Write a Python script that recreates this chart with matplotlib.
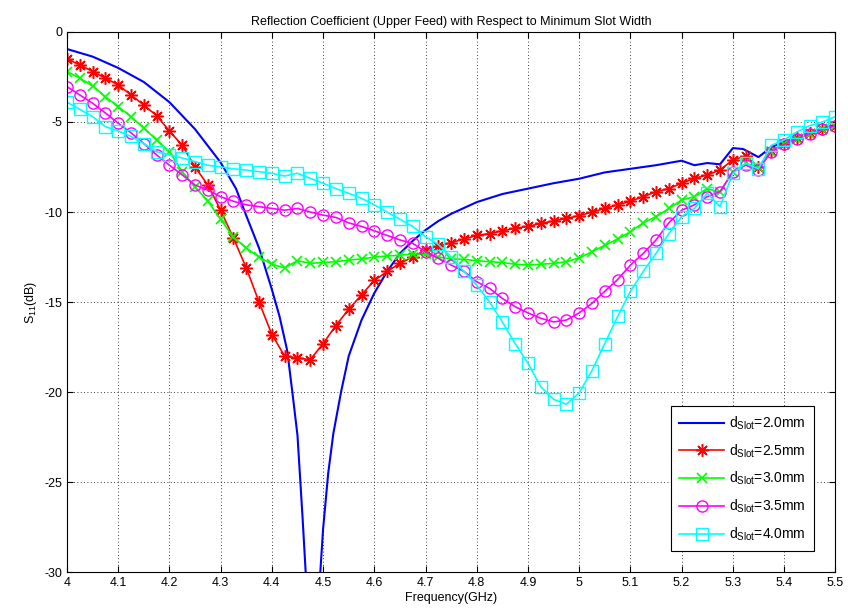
import matplotlib
matplotlib.use("Agg")
import matplotlib.pyplot as plt
import numpy as np

plt.rcParams['font.family'] = ['Liberation Sans', 'DejaVu Sans']
plt.rcParams['mathtext.fontset'] = 'custom'
plt.rcParams['mathtext.rm'] = 'Liberation Sans'
plt.rcParams['mathtext.it'] = 'Liberation Sans'
plt.rcParams['axes.unicode_minus'] = False

# frequency grid for marker curves (GHz)
freq = np.round(np.arange(4.0, 5.5001, 0.025), 3)

# d_slot = 2.0 mm (no markers, own sampling)
freq_20 = [4.0, 4.05, 4.1, 4.15, 4.2, 4.25, 4.3, 4.33, 4.35, 4.375, 4.4, 4.415,
           4.43, 4.44, 4.45, 4.46, 4.47, 4.48, 4.49, 4.5, 4.51, 4.52, 4.535,
           4.55, 4.575, 4.6, 4.625, 4.65, 4.675, 4.7, 4.725, 4.75, 4.8, 4.85,
           4.9, 4.95, 5.0, 5.05, 5.1, 5.15, 5.2, 5.225, 5.25, 5.275, 5.3, 5.32,
           5.35, 5.375, 5.4, 5.45, 5.5]
s11_20 = [-0.95, -1.37, -2.0, -2.78, -3.9, -5.4, -7.25, -8.7, -10.2, -12.0,
          -14.3, -15.8, -17.7, -20.0, -22.4, -27.0, -32.0, -35.0, -32.0, -27.6,
          -24.5, -22.3, -20.0, -18.0, -16.0, -14.5, -13.3, -12.3, -11.6, -11.0,
          -10.5, -10.1, -9.45, -9.0, -8.7, -8.4, -8.15, -7.8, -7.6, -7.4,
          -7.15, -7.4, -7.28, -7.35, -6.45, -6.5, -6.95, -6.4, -6.1, -5.6, -5.15]

s11_25 = [-1.5, -1.83, -2.2, -2.57, -2.94, -3.5, -4.06, -4.65, -5.5, -6.3,
          -7.5, -8.5, -9.9, -11.45, -13.1, -15.0, -16.8, -18.0, -18.1, -18.2,
          -17.3, -16.3, -15.4, -14.6, -13.8, -13.3, -12.85, -12.5, -12.1, -11.9,
          -11.7, -11.5, -11.3, -11.2, -11.04, -10.9, -10.8, -10.63, -10.5, -10.35,
          -10.2, -10.0, -9.8, -9.6, -9.4, -9.15, -8.87, -8.7, -8.4, -8.13,
          -7.94, -7.67, -7.1, -6.9, -7.5, -6.6, -6.2, -5.9, -5.6, -5.4, -5.2]

s11_30 = [-2.2, -2.57, -3.0, -3.6, -4.15, -4.7, -5.35, -6.0, -6.65, -7.76,
          -8.6, -9.4, -10.4, -11.4, -12.0, -12.5, -12.9, -13.1, -12.7, -12.85,
          -12.8, -12.76, -12.67, -12.6, -12.5, -12.44, -12.4, -12.33, -12.35, -12.5,
          -12.6, -12.63, -12.7, -12.76, -12.8, -12.9, -12.94, -12.9, -12.85, -12.76,
          -12.55, -12.2, -11.85, -11.5, -11.1, -10.6, -10.26, -9.8, -9.33, -9.15,
          -8.7, -8.9, -7.76, -7.3, -7.5, -6.65, -6.25, -5.95, -5.65, -5.4, -5.25]

s11_35 = [-3.04, -3.5, -3.96, -4.5, -5.07, -5.6, -6.2, -6.83, -7.4, -7.94,
          -8.5, -8.78, -9.15, -9.4, -9.6, -9.7, -9.8, -9.9, -9.8, -10.0,
          -10.17, -10.3, -10.6, -10.8, -11.04, -11.3, -11.55, -11.74, -12.2, -12.57,
          -12.94, -13.3, -13.87, -14.24, -14.8, -15.26, -15.6, -15.9, -16.1, -16.0,
          -15.6, -15.07, -14.4, -13.75, -12.95, -12.3, -11.55, -10.6, -9.9, -9.6,
          -9.15, -8.87, -7.76, -7.4, -7.65, -6.65, -6.25, -5.95, -5.65, -5.4, -5.2]

s11_40 = [-3.9, -4.3, -4.7, -5.26, -5.5, -5.8, -6.2, -6.65, -6.83, -7.0,
          -7.2, -7.4, -7.5, -7.6, -7.67, -7.76, -7.85, -8.0, -7.85, -8.13,
          -8.4, -8.7, -8.96, -9.24, -9.6, -10.0, -10.4, -10.8, -11.37, -11.8,
          -12.5, -13.3, -14.06, -15.0, -16.1, -17.3, -18.4, -19.7, -20.4, -20.67,
          -20.04, -18.8, -17.3, -15.8, -14.4, -13.3, -12.3, -11.2, -10.26, -9.8,
          -8.96, -9.7, -7.85, -7.3, -7.6, -6.3, -6.0, -5.55, -5.2, -5.0, -4.7]

labels = [r'd$_\mathrm{Slot}$=2.0mm', r'd$_\mathrm{Slot}$=2.5mm',
          r'd$_\mathrm{Slot}$=3.0mm', r'd$_\mathrm{Slot}$=3.5mm',
          r'd$_\mathrm{Slot}$=4.0mm']

fig = plt.figure(figsize=(8.48, 6.14), dpi=100)
ax = fig.add_axes([0.079, 0.068, 0.906, 0.880])

ax.plot(freq_20, s11_20, color=(0, 0, 1), lw=1.5, label=labels[0])
ax.plot(freq, s11_25, color=(1, 0, 0), lw=1.2, marker=(8, 2, 0), ms=9,
        mew=1.1, label=labels[1])
ax.plot(freq, s11_30, color=(0, 1, 0), lw=1.2, marker='x', ms=7,
        mew=1.2, label=labels[2])
ax.plot(freq, s11_35, color=(1, 0, 1), lw=1.2, marker='o', ms=8,
        mfc='none', mew=1.0, label=labels[3])
ax.plot(freq, s11_40, color=(0, 1, 1), lw=1.2, marker='s', ms=8,
        mfc='none', mew=1.0, label=labels[4])

ax.set_xlim(4, 5.5)
ax.set_ylim(-30, 0)
ax.set_xticks(np.round(np.arange(4.0, 5.51, 0.1), 1))
ax.set_xticklabels(['4', '4.1', '4.2', '4.3', '4.4', '4.5', '4.6', '4.7',
                    '4.8', '4.9', '5', '5.1', '5.2', '5.3', '5.4', '5.5'])
ax.set_yticks(range(-30, 1, 5))
ax.tick_params(direction='in', top=True, right=True, labelsize=9, length=4)
ax.grid(True, color='black', linestyle=(0, (1, 3)), linewidth=0.6)

ax.set_xlabel('Frequency(GHz)', fontsize=9, labelpad=2)
ax.set_ylabel('S$_{11}$(dB)', fontsize=9, labelpad=4)
ax.set_title('Reflection Coefficient (Upper Feed) with Respect to Minimum Slot Width',
             fontsize=9, pad=5)

leg = ax.legend(loc='lower right', fontsize=10, fancybox=False, framealpha=1,
                edgecolor='black', borderaxespad=1.5, handlelength=3.2,
                handletextpad=0.4, labelspacing=0.75, borderpad=0.6)
leg.get_frame().set_linewidth(0.8)

fig.savefig('out.png', dpi=100)
